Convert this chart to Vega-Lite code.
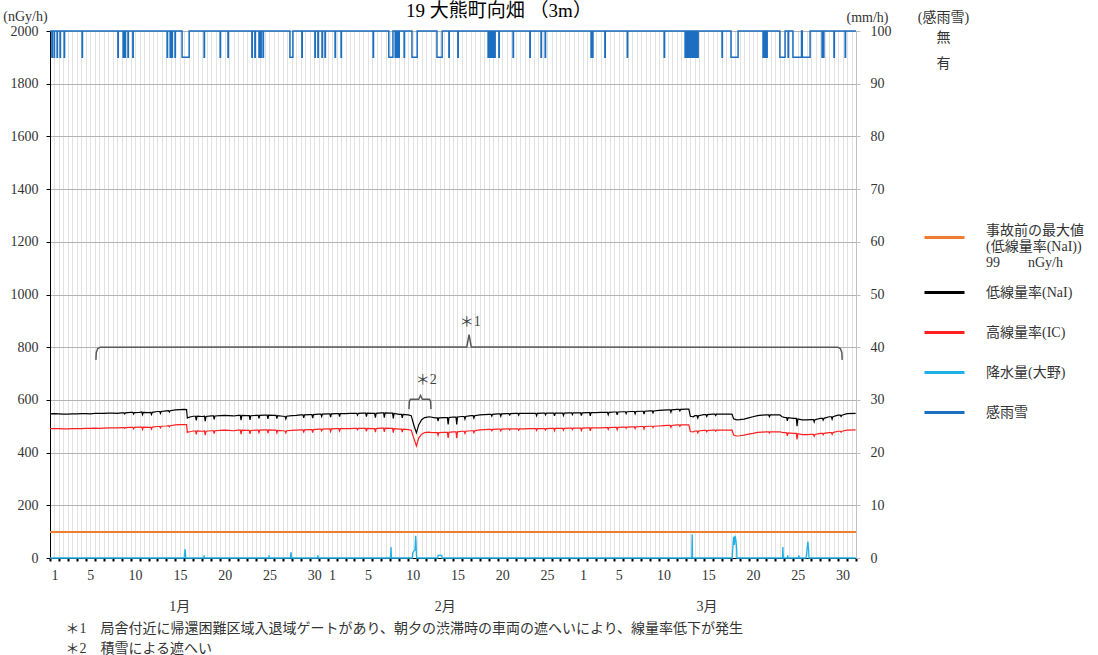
{
  "$schema": "https://vega.github.io/schema/vega-lite/v6.json",
  "width": 806,
  "height": 527,
  "autosize": {"type": "none"},
  "padding": {"left": 50, "top": 31, "right": 242, "bottom": 97},
  "background": "white",
  "title": {"text": "19 大熊町向畑 （3m）", "fontSize": 19, "fontWeight": "normal", "font": "Liberation Serif, Noto Sans CJK JP", "color": "#000", "anchor": "middle", "dx": 46, "offset": -12},
  "config": {
    "view": {"stroke": null},
    "font": "Liberation Serif, Noto Sans CJK JP",
    "axis": {"labelFont": "Liberation Serif, Noto Sans CJK JP", "labelFontSize": 14, "labelColor": "#333", "titleFont": "Liberation Serif, Noto Sans CJK JP", "titleFontSize": 14, "titleFontWeight": "normal", "titleColor": "#333"},
    "text": {"font": "Liberation Serif, Noto Sans CJK JP"}
  },
  "datasets": {
    "base": [{"v": 99}],
    "dose": [
      {"h":0,"n":547,"i":491},{"h":12,"n":548,"i":491},{"h":24,"n":547,"i":491},{"h":36,"n":546,"i":490},{"h":48,"n":546,"i":490},{"h":60,"n":547,"i":491},{"h":72,"n":547,"i":491},{"h":84,"n":548,"i":491},{"h":96,"n":548,"i":492},{"h":108,"n":547,"i":492},{"h":120,"n":549,"i":493},{"h":132,"n":549,"i":492},{"h":144,"n":549,"i":493},{"h":156,"n":550,"i":494},{"h":168,"n":550,"i":494},{"h":180,"n":549,"i":494},
      {"h":192,"n":551,"i":495},{"h":198,"n":551,"i":495},{"h":200,"n":547,"i":492},{"h":202,"n":551,"i":495},
      {"h":216,"n":553,"i":496},{"h":222,"n":553,"i":496},{"h":224,"n":546,"i":490},{"h":226,"n":552,"i":496},
      {"h":240,"n":553,"i":497},{"h":246,"n":554,"i":497},{"h":248,"n":544,"i":488},{"h":250,"n":553,"i":497},
      {"h":264,"n":552,"i":496},{"h":270,"n":553,"i":496},{"h":272,"n":545,"i":489},{"h":274,"n":553,"i":497},
      {"h":288,"n":556,"i":499},{"h":294,"n":556,"i":499},{"h":296,"n":549,"i":494},{"h":298,"n":556,"i":500},
      {"h":312,"n":558,"i":501},{"h":318,"n":559,"i":502},{"h":320,"n":554,"i":498},{"h":322,"n":559,"i":502},
      {"h":336,"n":562,"i":505},{"h":348,"n":563,"i":506},
      {"h":360,"n":564,"i":506},{"h":366,"n":563,"i":506},{"h":368,"n":531,"i":477},{"h":372,"n":534,"i":479},{"h":378,"n":536,"i":480},
      {"h":384,"n":538,"i":482},{"h":390,"n":538,"i":482},{"h":392,"n":522,"i":469},{"h":394,"n":538,"i":482},
      {"h":408,"n":537,"i":481},{"h":414,"n":538,"i":482},{"h":416,"n":519,"i":466},{"h":418,"n":537,"i":481},
      {"h":432,"n":539,"i":483},{"h":438,"n":539,"i":483},{"h":440,"n":526,"i":472},{"h":442,"n":539,"i":483},
      {"h":456,"n":540,"i":484},{"h":468,"n":541,"i":485},
      {"h":480,"n":540,"i":484},{"h":492,"n":539,"i":483},
      {"h":504,"n":541,"i":485},{"h":510,"n":541,"i":485},{"h":512,"n":523,"i":470},{"h":514,"n":541,"i":485},
      {"h":528,"n":540,"i":484},{"h":534,"n":540,"i":484},{"h":536,"n":524,"i":471},{"h":538,"n":540,"i":484},
      {"h":552,"n":541,"i":485},{"h":558,"n":541,"i":485},{"h":560,"n":530,"i":476},{"h":562,"n":541,"i":485},
      {"h":576,"n":542,"i":486},{"h":582,"n":542,"i":486},{"h":584,"n":528,"i":474},{"h":586,"n":542,"i":486},
      {"h":600,"n":541,"i":485},{"h":606,"n":541,"i":485},{"h":608,"n":529,"i":475},{"h":610,"n":540,"i":484},
      {"h":624,"n":538,"i":483},{"h":630,"n":537,"i":482},{"h":632,"n":528,"i":475},{"h":634,"n":538,"i":483},
      {"h":648,"n":540,"i":484},{"h":660,"n":541,"i":485},
      {"h":672,"n":543,"i":486},{"h":678,"n":543,"i":486},{"h":680,"n":532,"i":478},{"h":682,"n":543,"i":486},
      {"h":696,"n":544,"i":487},{"h":702,"n":544,"i":487},{"h":704,"n":531,"i":476},{"h":706,"n":544,"i":487},
      {"h":720,"n":546,"i":489},{"h":726,"n":546,"i":489},{"h":728,"n":537,"i":482},{"h":730,"n":546,"i":489},
      {"h":744,"n":547,"i":490},{"h":750,"n":547,"i":490},{"h":752,"n":535,"i":480},{"h":754,"n":547,"i":490},
      {"h":768,"n":548,"i":491},{"h":774,"n":548,"i":491},{"h":776,"n":537,"i":482},{"h":778,"n":548,"i":491},
      {"h":792,"n":548,"i":491},{"h":804,"n":549,"i":491},
      {"h":816,"n":549,"i":492},{"h":822,"n":549,"i":492},{"h":824,"n":542,"i":487},{"h":826,"n":549,"i":492},
      {"h":840,"n":550,"i":492},{"h":846,"n":550,"i":492},{"h":848,"n":537,"i":481},{"h":850,"n":550,"i":492},
      {"h":864,"n":549,"i":491},{"h":870,"n":549,"i":491},{"h":872,"n":533,"i":478},{"h":874,"n":549,"i":491},
      {"h":888,"n":551,"i":493},{"h":894,"n":551,"i":493},{"h":896,"n":533,"i":479},{"h":898,"n":551,"i":493},
      {"h":912,"n":550,"i":492},{"h":918,"n":550,"i":492},{"h":920,"n":530,"i":476},{"h":922,"n":549,"i":491},
      {"h":936,"n":545,"i":489},{"h":942,"n":545,"i":489},{"h":944,"n":532,"i":478},{"h":946,"n":545,"i":489},
      {"h":960,"n":543,"i":487},{"h":968,"n":540,"i":485},{"h":976,"n":500,"i":450},{"h":982,"n":475,"i":425},{"h":988,"n":505,"i":455},{"h":996,"n":525,"i":470},{"h":1004,"n":533,"i":476},
      {"h":1008,"n":534,"i":477},{"h":1016,"n":536,"i":478},{"h":1020,"n":535,"i":477},
      {"h":1032,"n":532,"i":476},{"h":1038,"n":532,"i":476},{"h":1040,"n":519,"i":466},{"h":1042,"n":532,"i":476},
      {"h":1056,"n":533,"i":477},{"h":1065,"n":533,"i":477},{"h":1067,"n":507,"i":456},{"h":1069,"n":533,"i":477},
      {"h":1080,"n":535,"i":479},{"h":1088,"n":535,"i":479},{"h":1090,"n":507,"i":455},{"h":1092,"n":535,"i":479},
      {"h":1104,"n":537,"i":481},{"h":1110,"n":537,"i":481},{"h":1112,"n":527,"i":473},{"h":1114,"n":537,"i":481},
      {"h":1128,"n":540,"i":483},{"h":1134,"n":540,"i":483},{"h":1136,"n":531,"i":476},{"h":1138,"n":540,"i":483},
      {"h":1152,"n":543,"i":486},{"h":1164,"n":544,"i":487},
      {"h":1176,"n":545,"i":488},{"h":1182,"n":545,"i":488},{"h":1184,"n":538,"i":483},{"h":1186,"n":545,"i":488},
      {"h":1200,"n":547,"i":489},{"h":1206,"n":547,"i":489},{"h":1208,"n":538,"i":482},{"h":1210,"n":547,"i":489},
      {"h":1224,"n":548,"i":490},{"h":1230,"n":548,"i":490},{"h":1232,"n":543,"i":486},{"h":1234,"n":548,"i":490},
      {"h":1248,"n":549,"i":490},{"h":1254,"n":549,"i":490},{"h":1256,"n":542,"i":485},{"h":1258,"n":549,"i":490},
      {"h":1272,"n":549,"i":490},{"h":1284,"n":549,"i":491},
      {"h":1296,"n":549,"i":491},{"h":1302,"n":549,"i":491},{"h":1304,"n":540,"i":484},{"h":1306,"n":549,"i":491},
      {"h":1320,"n":550,"i":491},{"h":1326,"n":550,"i":491},{"h":1328,"n":543,"i":486},{"h":1330,"n":550,"i":491},
      {"h":1344,"n":550,"i":492},{"h":1350,"n":550,"i":492},{"h":1352,"n":539,"i":483},{"h":1354,"n":550,"i":492},
      {"h":1368,"n":550,"i":492},{"h":1374,"n":550,"i":492},{"h":1376,"n":541,"i":485},{"h":1378,"n":550,"i":492},
      {"h":1392,"n":551,"i":493},{"h":1398,"n":551,"i":493},{"h":1400,"n":544,"i":488},{"h":1402,"n":551,"i":493},
      {"h":1416,"n":551,"i":493},{"h":1422,"n":551,"i":493},{"h":1424,"n":540,"i":484},{"h":1426,"n":551,"i":493},
      {"h":1440,"n":552,"i":494},{"h":1446,"n":552,"i":494},{"h":1448,"n":539,"i":483},{"h":1450,"n":552,"i":494},
      {"h":1464,"n":552,"i":494},{"h":1476,"n":553,"i":494},
      {"h":1488,"n":553,"i":495},{"h":1494,"n":553,"i":495},{"h":1496,"n":544,"i":488},{"h":1498,"n":553,"i":495},
      {"h":1512,"n":554,"i":496},{"h":1518,"n":554,"i":496},{"h":1520,"n":543,"i":487},{"h":1522,"n":554,"i":496},
      {"h":1536,"n":555,"i":497},{"h":1542,"n":555,"i":497},{"h":1544,"n":548,"i":492},{"h":1546,"n":555,"i":497},
      {"h":1560,"n":556,"i":498},{"h":1566,"n":556,"i":498},{"h":1568,"n":547,"i":491},{"h":1570,"n":556,"i":498},
      {"h":1584,"n":557,"i":499},{"h":1590,"n":557,"i":499},{"h":1592,"n":546,"i":490},{"h":1594,"n":557,"i":499},
      {"h":1608,"n":558,"i":500},{"h":1614,"n":558,"i":500},{"h":1616,"n":551,"i":495},{"h":1618,"n":558,"i":500},
      {"h":1632,"n":560,"i":501},{"h":1644,"n":561,"i":502},
      {"h":1656,"n":562,"i":503},{"h":1662,"n":562,"i":503},{"h":1664,"n":553,"i":496},{"h":1666,"n":562,"i":503},
      {"h":1680,"n":564,"i":505},{"h":1686,"n":564,"i":505},{"h":1688,"n":558,"i":500},{"h":1690,"n":564,"i":505},
      {"h":1704,"n":565,"i":505},{"h":1712,"n":565,"i":505},{"h":1716,"n":538,"i":480},{"h":1724,"n":536,"i":479},
      {"h":1728,"n":540,"i":482},{"h":1734,"n":540,"i":482},{"h":1736,"n":531,"i":475},{"h":1738,"n":540,"i":482},
      {"h":1752,"n":544,"i":484},{"h":1758,"n":544,"i":484},{"h":1760,"n":537,"i":479},{"h":1762,"n":544,"i":484},
      {"h":1776,"n":546,"i":485},{"h":1782,"n":546,"i":485},{"h":1784,"n":541,"i":481},{"h":1786,"n":546,"i":485},
      {"h":1800,"n":546,"i":485},{"h":1812,"n":546,"i":485},
      {"h":1824,"n":546,"i":485},{"h":1828,"n":545,"i":485},{"h":1832,"n":528,"i":467},{"h":1840,"n":524,"i":463},
      {"h":1848,"n":525,"i":464},{"h":1860,"n":527,"i":466},
      {"h":1872,"n":532,"i":470},{"h":1884,"n":536,"i":473},
      {"h":1896,"n":540,"i":477},{"h":1908,"n":542,"i":478},
      {"h":1920,"n":543,"i":479},{"h":1926,"n":543,"i":479},{"h":1928,"n":536,"i":474},{"h":1930,"n":543,"i":479},
      {"h":1944,"n":543,"i":479},{"h":1956,"n":543,"i":479},{"h":1962,"n":536,"i":477},
      {"h":1968,"n":534,"i":476},{"h":1974,"n":533,"i":475},{"h":1976,"n":520,"i":464},{"h":1978,"n":533,"i":475},
      {"h":1992,"n":530,"i":473},{"h":2000,"n":530,"i":473},{"h":2002,"n":500,"i":450},{"h":2004,"n":528,"i":472},
      {"h":2016,"n":524,"i":468},{"h":2028,"n":524,"i":468},
      {"h":2040,"n":525,"i":469},{"h":2046,"n":525,"i":469},{"h":2048,"n":516,"i":462},{"h":2050,"n":525,"i":469},
      {"h":2064,"n":530,"i":473},{"h":2070,"n":530,"i":473},{"h":2072,"n":523,"i":468},{"h":2074,"n":530,"i":473},
      {"h":2088,"n":536,"i":476},{"h":2094,"n":536,"i":476},{"h":2096,"n":527,"i":469},{"h":2098,"n":536,"i":476},
      {"h":2112,"n":542,"i":481},{"h":2118,"n":542,"i":481},{"h":2120,"n":537,"i":477},{"h":2122,"n":542,"i":481},
      {"h":2136,"n":548,"i":485},{"h":2159,"n":549,"i":486}
    ],
    "rain": [
      {"h":0,"r":0},{"h":359,"r":0},{"h":360,"r":0.3},{"h":361,"r":1.0},{"h":362,"r":1.7},{"h":363,"r":0.8},{"h":364,"r":0},
      {"h":412,"r":0},{"h":413,"r":0.5},{"h":414,"r":0},
      {"h":586,"r":0},{"h":587,"r":0.5},{"h":588,"r":0},
      {"h":644,"r":0},{"h":645,"r":0.6},{"h":646,"r":1.1},{"h":647,"r":0.3},{"h":648,"r":0},
      {"h":717,"r":0},{"h":718,"r":0.5},{"h":719,"r":0},
      {"h":912,"r":0},{"h":913,"r":0.8},{"h":914,"r":2.1},{"h":915,"r":0},
      {"h":971,"r":0},{"h":972,"r":1.0},{"h":975,"r":1.3},{"h":978,"r":1.5},{"h":980,"r":4.2},{"h":981,"r":3.0},{"h":982,"r":0.5},{"h":983,"r":0},
      {"h":1039,"r":0},{"h":1040,"r":0.5},{"h":1045,"r":0.5},{"h":1050,"r":0.5},{"h":1051,"r":0},
      {"h":1720,"r":0},{"h":1721,"r":4.5},{"h":1722,"r":0},
      {"h":1828,"r":0},{"h":1830,"r":2.0},{"h":1831,"r":3.2},{"h":1832,"r":4.0},{"h":1834,"r":2.5},{"h":1836,"r":4.2},{"h":1838,"r":3.5},{"h":1840,"r":2.0},{"h":1841,"r":0},
      {"h":1963,"r":0},{"h":1964,"r":2.1},{"h":1965,"r":0.5},{"h":1966,"r":0},
      {"h":1976,"r":0},{"h":1977,"r":0.5},{"h":1978,"r":0},
      {"h":2006,"r":0},{"h":2007,"r":0.5},{"h":2008,"r":0},
      {"h":2026,"r":0},{"h":2028,"r":1.0},{"h":2030,"r":2.5},{"h":2031,"r":3.1},{"h":2033,"r":1.5},{"h":2034,"r":0},
      {"h":2159,"r":0}
    ],
    "sense": [
      {"h":0,"s":20},{"h":5,"s":19},{"h":6,"s":20},{"h":11,"s":19},{"h":12,"s":20},{"h":19,"s":19},{"h":20,"s":20},{"h":27,"s":19},{"h":28,"s":20},{"h":38,"s":19},{"h":39,"s":20},{"h":86,"s":19},{"h":87,"s":20},
      {"h":182,"s":19},{"h":183,"s":20},{"h":196,"s":19},{"h":197,"s":20},{"h":201,"s":19},{"h":202,"s":20},{"h":209,"s":19},{"h":210,"s":20},{"h":222,"s":19},{"h":223,"s":20},
      {"h":314,"s":19},{"h":315,"s":20},{"h":322,"s":19},{"h":323,"s":20},{"h":327,"s":19},{"h":328,"s":20},{"h":335,"s":19},{"h":336,"s":20},{"h":354,"s":19},{"h":373,"s":20},
      {"h":413,"s":19},{"h":414,"s":20},{"h":456,"s":19},{"h":457,"s":20},{"h":477,"s":19},{"h":478,"s":20},
      {"h":541,"s":19},{"h":542,"s":20},{"h":549,"s":19},{"h":550,"s":20},{"h":560,"s":19},{"h":561,"s":20},{"h":565,"s":19},{"h":566,"s":20},{"h":571,"s":19},{"h":572,"s":20},
      {"h":643,"s":19},{"h":651,"s":20},{"h":675,"s":19},{"h":676,"s":20},{"h":710,"s":19},{"h":711,"s":20},{"h":718,"s":19},{"h":719,"s":20},{"h":729,"s":19},{"h":730,"s":20},{"h":737,"s":19},{"h":738,"s":20},
      {"h":764,"s":19},{"h":765,"s":20},{"h":780,"s":19},{"h":781,"s":20},{"h":866,"s":19},{"h":867,"s":20},
      {"h":908,"s":19},{"h":919,"s":20},{"h":925,"s":19},{"h":927,"s":20},{"h":928,"s":19},{"h":930,"s":20},{"h":931,"s":19},{"h":933,"s":20},{"h":934,"s":19},{"h":936,"s":20},{"h":949,"s":19},{"h":950,"s":20},
      {"h":970,"s":19},{"h":984,"s":20},{"h":1037,"s":19},{"h":1051,"s":20},{"h":1069,"s":19},{"h":1070,"s":20},{"h":1093,"s":19},{"h":1094,"s":20},
      {"h":1174,"s":19},{"h":1176,"s":20},{"h":1177,"s":19},{"h":1179,"s":20},{"h":1180,"s":19},{"h":1183,"s":20},{"h":1184,"s":19},{"h":1187,"s":20},{"h":1188,"s":19},{"h":1190,"s":20},{"h":1191,"s":19},{"h":1193,"s":20},
      {"h":1203,"s":19},{"h":1204,"s":20},{"h":1241,"s":19},{"h":1242,"s":20},{"h":1286,"s":19},{"h":1287,"s":20},{"h":1316,"s":19},{"h":1317,"s":20},{"h":1327,"s":19},{"h":1328,"s":20},
      {"h":1450,"s":19},{"h":1452,"s":20},{"h":1453,"s":19},{"h":1455,"s":20},{"h":1487,"s":19},{"h":1488,"s":20},{"h":1547,"s":19},{"h":1548,"s":20},{"h":1646,"s":19},{"h":1647,"s":20},
      {"h":1702,"s":19},{"h":1705,"s":20},{"h":1706,"s":19},{"h":1710,"s":20},{"h":1712,"s":19},{"h":1714,"s":20},{"h":1716,"s":19},{"h":1720,"s":20},{"h":1722,"s":19},{"h":1726,"s":20},{"h":1728,"s":19},{"h":1731,"s":20},{"h":1733,"s":19},{"h":1737,"s":20},
      {"h":1801,"s":19},{"h":1802,"s":20},{"h":1825,"s":19},{"h":1844,"s":20},
      {"h":1911,"s":19},{"h":1913,"s":20},{"h":1914,"s":19},{"h":1916,"s":20},{"h":1917,"s":19},{"h":1919,"s":20},{"h":1920,"s":19},{"h":1922,"s":20},
      {"h":1956,"s":19},{"h":1970,"s":20},{"h":1978,"s":19},{"h":1979,"s":20},{"h":1991,"s":19},{"h":2014,"s":20},{"h":2016,"s":19},{"h":2037,"s":20},
      {"h":2069,"s":19},{"h":2071,"s":20},{"h":2072,"s":19},{"h":2074,"s":20},{"h":2101,"s":19},{"h":2102,"s":20},{"h":2131,"s":19},{"h":2132,"s":20},{"h":2160,"s":20}
    ],
    "brackets": [
      {"h":123,"v":752,"b":"1"},{"h":124,"v":780,"b":"1"},{"h":128,"v":795,"b":"1"},{"h":135,"v":800,"b":"1"},{"h":1117,"v":801,"b":"1"},{"h":1123,"v":848,"b":"1"},{"h":1129,"v":801,"b":"1"},{"h":2111,"v":800,"b":"1"},{"h":2118,"v":795,"b":"1"},{"h":2122,"v":780,"b":"1"},{"h":2123,"v":752,"b":"1"},
      {"h":962,"v":565,"b":"2"},{"h":963,"v":594,"b":"2"},{"h":966,"v":602,"b":"2"},{"h":988,"v":602,"b":"2"},{"h":993,"v":617,"b":"2"},{"h":998,"v":602,"b":"2"},{"h":1017,"v":602,"b":"2"},{"h":1020,"v":594,"b":"2"},{"h":1021,"v":565,"b":"2"}
    ],
    "notes": [
      {"h":1126,"v":896,"t":"＊1"},
      {"h":1008,"v":675,"t":"＊2"}
    ],
    "months": [
      {"h":348,"m":"1月"},
      {"h":1059,"m":"2月"},
      {"h":1761,"m":"3月"}
    ]
  },
  "layer": [
    {
      "data": {"name": "base"},
      "mark": {"type": "rule", "strokeWidth": 2},
      "encoding": {
        "y": {"field": "v", "type": "quantitative", "scale": {"domain": [0, 2000], "nice": false, "zero": false},
          "axis": {"orient": "left", "title": "(nGy/h)", "titleAngle": 0, "titleX": -25, "titleY": -15, "titleAlign": "center", "titleBaseline": "middle", "format": "d",
            "values": [0,200,400,600,800,1000,1200,1400,1600,1800,2000], "grid": true, "gridColor": "#b3b3b3", "gridWidth": 1,
            "tickSize": 4, "tickColor": "#000", "domainColor": "#000", "labelPadding": 8}},
        "stroke": {"datum": "事故前の最大値", "type": "nominal", "scale": {"range": ["#ED7D31"]},
          "legend": {"orient": "none", "legendX": 873, "legendY": 185, "direction": "vertical", "title": null, "symbolType": "stroke", "symbolSize": 1600, "symbolStrokeWidth": 3,
            "labelOffset": 20, "labelFontSize": 14, "labelFont": "Liberation Serif, Noto Sans CJK JP", "labelColor": "#333", "labelLimit": 0, "labelBaseline": "bottom",
            "labelExpr": "['事故前の最大値', '(低線量率(NaI))', '99　　nGy/h']"}}
      }
    },
    {
      "data": {"name": "dose"},
      "mark": {"type": "line", "strokeWidth": 1.2},
      "encoding": {
        "x": {"field": "h", "type": "quantitative", "scale": {"domain": [0, 2160], "nice": false, "zero": false},
          "axis": {"orient": "bottom", "values": [0,24,48,72,96,120,144,168,192,216,240,264,288,312,336,360,384,408,432,456,480,504,528,552,576,600,624,648,672,696,720,744,768,792,816,840,864,888,912,936,960,984,1008,1032,1056,1080,1104,1128,1152,1176,1200,1224,1248,1272,1296,1320,1344,1368,1392,1416,1440,1464,1488,1512,1536,1560,1584,1608,1632,1656,1680,1704,1728,1752,1776,1800,1824,1848,1872,1896,1920,1944,1968,1992,2016,2040,2064,2088,2112,2136,2160],
            "grid": false, "tickSize": 3, "tickWidth": 2, "tickColor": "#000", "domainColor": "#000", "labelOffset": 4.5, "labelPadding": 7, "labelFlush": false, "labelOverlap": false,
            "labelExpr": "(datum.value >= 1416 ? datum.value/24 - 58 : datum.value >= 744 ? datum.value/24 - 30 : datum.value/24 + 1) == 1 || (datum.value >= 1416 ? datum.value/24 - 58 : datum.value >= 744 ? datum.value/24 - 30 : datum.value/24 + 1) % 5 == 0 ? toString(datum.value >= 1416 ? datum.value/24 - 58 : datum.value >= 744 ? datum.value/24 - 30 : datum.value/24 + 1) : ''",
            "title": ["＊1　局舎付近に帰還困難区域入退域ゲートがあり、朝夕の渋滞時の車両の遮へいにより、線量率低下が発生", "＊2　積雪による遮へい"],
            "titleAnchor": "start", "titleAlign": "left", "titleX": 15, "titleY": 63, "titleBaseline": "top", "titleLineHeight": 20}},
        "y": {"field": "n", "type": "quantitative", "scale": {"domain": [0, 2000], "nice": false, "zero": false}, "axis": null},
        "color": {"datum": "低線量率(NaI)", "type": "nominal",
          "scale": {"domain": ["低線量率(NaI)", "高線量率(IC)", "降水量(大野)", "感雨雪"], "range": ["#000000", "#FF1F1F", "#1FB0E8", "#1C6FC0"]},
          "legend": {"orient": "none", "legendX": 873, "legendY": 240, "direction": "vertical", "title": null, "symbolType": "stroke", "symbolSize": 1600, "symbolStrokeWidth": 3,
            "labelOffset": 20, "labelFontSize": 14, "labelFont": "Liberation Serif, Noto Sans CJK JP", "labelColor": "#333", "rowPadding": 11, "labelLimit": 0}}
      }
    },
    {
      "data": {"name": "dose"},
      "mark": {"type": "line", "strokeWidth": 1.2},
      "encoding": {
        "x": {"field": "h", "type": "quantitative", "scale": {"domain": [0, 2160], "nice": false, "zero": false}, "axis": null},
        "y": {"field": "i", "type": "quantitative", "scale": {"domain": [0, 2000], "nice": false, "zero": false}, "axis": null},
        "color": {"datum": "高線量率(IC)", "type": "nominal"}
      }
    },
    {
      "data": {"name": "brackets"},
      "mark": {"type": "line", "strokeWidth": 1.5, "color": "#595959"},
      "encoding": {
        "x": {"field": "h", "type": "quantitative", "scale": {"domain": [0, 2160], "nice": false, "zero": false}, "axis": null},
        "y": {"field": "v", "type": "quantitative", "scale": {"domain": [0, 2000], "nice": false, "zero": false}, "axis": null},
        "detail": {"field": "b"}
      }
    },
    {
      "data": {"name": "notes"},
      "mark": {"type": "text", "fontSize": 14, "color": "#404040"},
      "encoding": {
        "x": {"field": "h", "type": "quantitative", "scale": {"domain": [0, 2160], "nice": false, "zero": false}, "axis": null},
        "y": {"field": "v", "type": "quantitative", "scale": {"domain": [0, 2000], "nice": false, "zero": false}, "axis": null},
        "text": {"field": "t"}
      }
    },
    {
      "data": {"name": "months"},
      "mark": {"type": "text", "fontSize": 14, "color": "#333"},
      "encoding": {
        "x": {"field": "h", "type": "quantitative", "scale": {"domain": [0, 2160], "nice": false, "zero": false}, "axis": null},
        "y": {"datum": -186, "type": "quantitative", "scale": {"domain": [0, 2000], "nice": false, "zero": false}, "axis": null},
        "text": {"field": "m"}
      }
    },
    {
      "data": {"name": "rain"},
      "mark": {"type": "line", "strokeWidth": 1.3},
      "encoding": {
        "x": {"field": "h", "type": "quantitative", "scale": {"domain": [0, 2160], "nice": false, "zero": false}, "axis": null},
        "y": {"field": "r", "type": "quantitative", "scale": {"domain": [0, 100], "nice": false, "zero": false},
          "axis": {"orient": "right", "title": "(mm/h)", "titleAngle": 0, "titleX": 11, "titleY": -14, "titleAlign": "center", "titleBaseline": "middle",
            "values": [0,10,20,30,40,50,60,70,80,90,100], "grid": false, "tickSize": 4, "tickColor": "#bfbfbf", "domainColor": "#bfbfbf", "labelPadding": 10}},
        "color": {"datum": "降水量(大野)", "type": "nominal"}
      }
    },
    {
      "data": {"name": "sense"},
      "mark": {"type": "line", "interpolate": "step-after", "strokeWidth": 1.5},
      "encoding": {
        "x": {"field": "h", "type": "quantitative", "scale": {"domain": [0, 2160], "nice": false, "zero": false},
          "axis": {"orient": "bottom", "values": [0,12,24,36,48,60,72,84,96,108,120,132,144,156,168,180,192,204,216,228,240,252,264,276,288,300,312,324,336,348,360,372,384,396,408,420,432,444,456,468,480,492,504,516,528,540,552,564,576,588,600,612,624,636,648,660,672,684,696,708,720,732,744,756,768,780,792,804,816,828,840,852,864,876,888,900,912,924,936,948,960,972,984,996,1008,1020,1032,1044,1056,1068,1080,1092,1104,1116,1128,1140,1152,1164,1176,1188,1200,1212,1224,1236,1248,1260,1272,1284,1296,1308,1320,1332,1344,1356,1368,1380,1392,1404,1416,1428,1440,1452,1464,1476,1488,1500,1512,1524,1536,1548,1560,1572,1584,1596,1608,1620,1632,1644,1656,1668,1680,1692,1704,1716,1728,1740,1752,1764,1776,1788,1800,1812,1824,1836,1848,1860,1872,1884,1896,1908,1920,1932,1944,1956,1968,1980,1992,2004,2016,2028,2040,2052,2064,2076,2088,2100,2112,2124,2136,2148,2160],
            "grid": true, "gridColor": "#e2e2e2", "gridWidth": 1, "ticks": false, "labels": false, "domain": false, "title": null}},
        "y": {"field": "s", "type": "quantitative", "scale": {"domain": [0, 20], "nice": false, "zero": false},
          "axis": {"orient": "right", "offset": 80, "values": [19, 20], "labelExpr": "datum.value == 20 ? '無' : '有'", "ticks": false, "domain": false, "grid": false,
            "labelPadding": 0, "labelOffset": 6, "title": "(感雨雪)", "titleAngle": 0, "titleX": 7, "titleY": -14, "titleAlign": "center", "titleBaseline": "middle"}},
        "color": {"datum": "感雨雪", "type": "nominal"}
      }
    }
  ],
  "resolve": {"scale": {"y": "independent"}, "axis": {"y": "independent", "x": "independent"}}
}
